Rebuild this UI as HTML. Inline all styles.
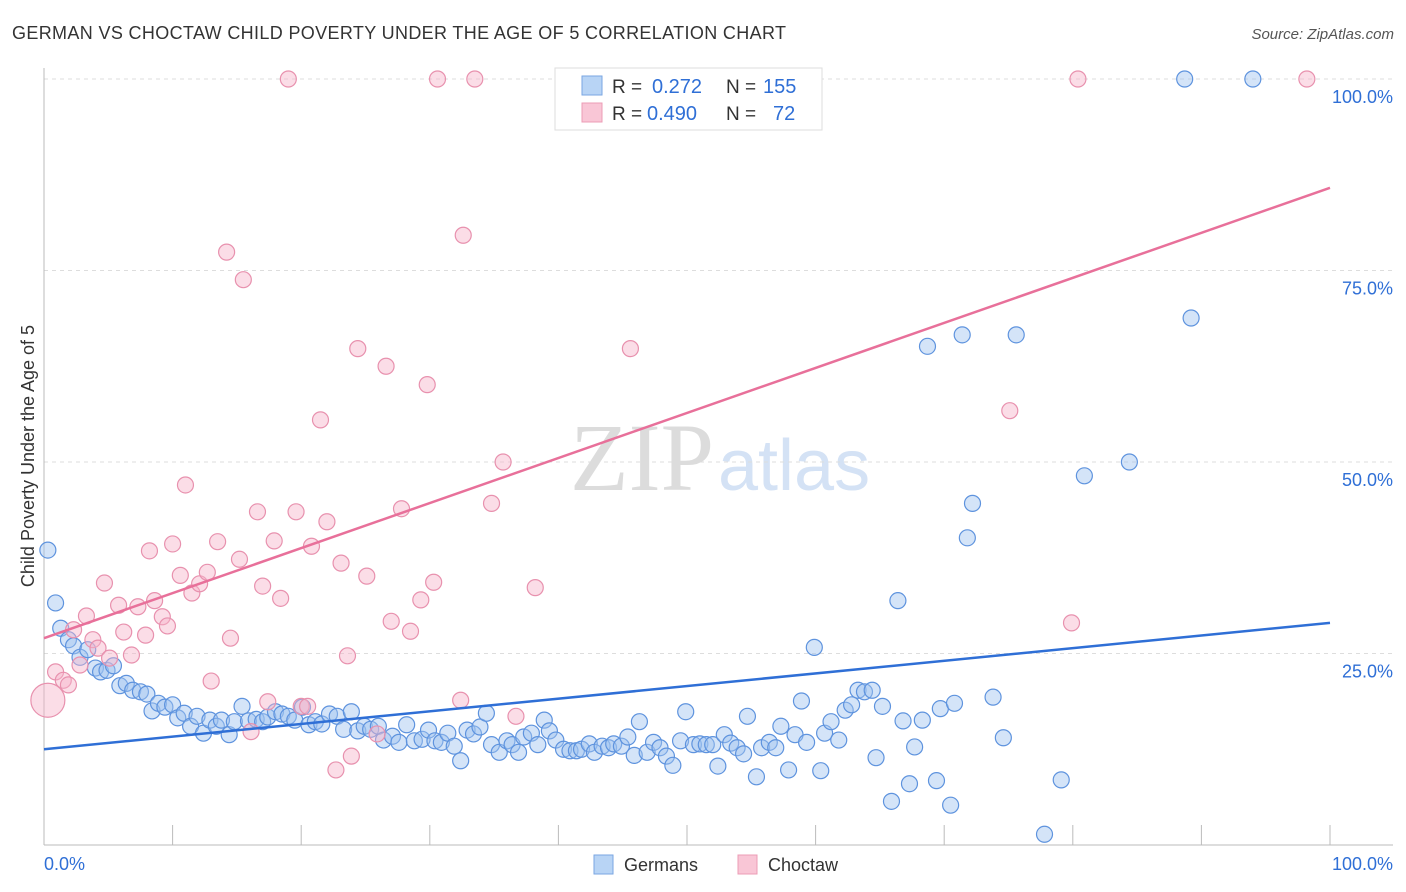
<!DOCTYPE html>
<html><head><meta charset="utf-8">
<style>
body{margin:0;background:#fff;font-family:"Liberation Sans",sans-serif;}
#wrap{position:relative;width:1406px;height:892px;overflow:hidden;}
</style></head>
<body>
<div id="wrap">
<svg id="svg" width="1406" height="892" xmlns="http://www.w3.org/2000/svg">
<text x="12" y="39" font-size="18" fill="#333" textLength="774">GERMAN VS CHOCTAW CHILD POVERTY UNDER THE AGE OF 5 CORRELATION CHART</text>
<text x="1394" y="39" font-size="15" fill="#555" font-style="italic" text-anchor="end">Source: ZipAtlas.com</text>
<text x="714" y="490" font-size="96" fill="#dcdcdc" text-anchor="end" font-family="Liberation Serif">ZIP</text>
<text x="718" y="490" font-size="72" fill="#d4e2f5">atlas</text>
<text transform="translate(34,456) rotate(-90)" font-size="18" fill="#333" text-anchor="middle">Child Poverty Under the Age of 5</text>
<g id="grid"></g><g id="axes"></g><g id="marks"></g>
<g>
<rect x="555" y="68" width="267" height="62" fill="#fff" stroke="#ddd"/>
<rect x="582" y="76" width="20" height="19" fill="#b8d4f5" stroke="#7aa6e2"/>
<rect x="582" y="103" width="20" height="19" fill="#f9c6d6" stroke="#ec9cb6"/>
<text x="612" y="93" font-size="19" fill="#333">R =</text>
<text x="652" y="93" font-size="20" fill="#2f6fd6">0.272</text>
<text x="726" y="93" font-size="19" fill="#333">N =</text>
<text x="763" y="93" font-size="20" fill="#2f6fd6">155</text>
<text x="612" y="120" font-size="19" fill="#333">R =</text>
<text x="647" y="120" font-size="20" fill="#2f6fd6">0.490</text>
<text x="726" y="120" font-size="19" fill="#333">N =</text>
<text x="773" y="120" font-size="20" fill="#2f6fd6">72</text>
</g>
<g>
<rect x="594" y="855" width="19" height="19" fill="#b8d4f5" stroke="#7aa6e2"/>
<text x="624" y="871" font-size="18" fill="#333">Germans</text>
<rect x="738" y="855" width="19" height="19" fill="#f9c6d6" stroke="#ec9cb6"/>
<text x="768" y="871" font-size="18" fill="#333">Choctaw</text>
</g>
</svg>
</div>
<script>
const yTicks=[25,50,75,100];
const yTickLabels=["25.0%","50.0%","75.0%","100.0%"];
const xTicks=[0,10,20,30,40,50,60,70,80,90,100];
const germanX=[0.3,0.9,1.3,1.9,2.3,2.8,3.4,4.0,4.4,4.9,5.4,5.9,6.4,6.9,7.5,8.0,8.4,8.9,9.4,10.0,10.4,10.9,11.4,11.9,12.4,12.9,13.4,13.8,14.4,14.8,15.4,15.9,16.5,17.0,17.4,18.0,18.5,19.0,19.5,20.1,20.6,21.1,21.6,22.2,22.8,23.3,23.9,24.4,24.9,25.4,26.0,26.4,27.1,27.6,28.2,28.8,29.4,29.9,30.4,30.9,31.4,31.9,32.4,32.9,33.4,33.9,34.4,34.8,35.4,36.0,36.4,36.9,37.3,37.9,38.4,38.9,39.3,39.8,40.4,40.9,41.4,41.8,42.4,42.8,43.4,43.9,44.3,44.9,45.4,45.9,46.3,46.9,47.4,47.9,48.4,48.9,49.5,49.9,50.5,51.0,51.5,52.0,52.4,52.9,53.4,53.9,54.4,54.7,55.4,55.8,56.4,56.9,57.3,57.9,58.4,58.9,59.3,59.9,60.4,60.7,61.2,61.8,62.3,62.8,63.3,63.8,64.4,64.7,65.2,65.9,66.4,66.8,67.3,67.7,68.3,68.7,69.4,69.7,70.5,70.8,71.4,71.8,72.2,73.8,74.6,75.6,77.8,79.1,80.9,84.4,88.7,89.2,94.0];
const germanY=[38.5,31.6,28.3,26.8,26.0,24.5,25.5,23.1,22.6,22.8,23.4,20.8,21.1,20.2,20.0,19.7,17.5,18.5,18.0,18.3,16.6,17.2,15.5,16.8,14.6,16.3,15.5,16.3,14.4,16.1,18.1,16.2,16.4,16.1,16.7,17.4,17.1,16.8,16.3,18.0,15.7,16.1,15.8,17.1,16.8,15.1,17.4,14.9,15.5,15.1,15.5,13.7,14.2,13.4,15.7,13.6,13.8,15.0,13.6,13.4,14.6,12.9,11.0,15.0,14.5,15.4,17.2,13.1,12.1,13.6,13.1,12.1,14.1,14.6,13.1,16.3,14.9,13.7,12.5,12.3,12.3,12.5,13.2,12.1,12.9,12.7,13.2,12.9,14.1,11.7,16.1,12.1,13.4,12.7,11.6,10.4,13.6,17.4,13.1,13.2,13.1,13.1,10.3,14.4,13.3,12.7,11.9,16.8,8.9,12.7,13.4,12.7,15.5,9.8,14.4,18.8,13.4,25.8,9.7,14.6,16.1,13.7,17.6,18.3,20.2,20.0,20.2,11.4,18.1,5.7,31.9,16.2,8.0,12.8,16.3,65.1,8.4,17.8,5.2,18.5,66.6,40.1,44.6,19.3,14.0,66.6,1.4,8.5,48.2,50.0,100,68.8,100];
const choctawX=[0.3,0.9,1.5,1.9,2.3,2.8,3.3,3.8,4.2,4.7,5.1,5.8,6.2,6.8,7.3,7.9,8.2,8.6,9.2,9.6,10.0,10.6,11.0,11.5,12.1,12.7,13.0,13.5,14.2,14.5,15.2,15.5,16.1,16.6,17.0,17.4,17.9,18.4,19.0,19.6,20.0,20.5,20.8,21.5,22.0,22.7,23.1,23.6,23.9,24.4,25.1,25.9,26.6,27.0,27.8,28.5,29.3,29.8,30.3,30.6,32.4,32.6,33.5,34.8,35.7,36.7,38.2,45.6,75.1,79.9,80.4,98.2];
const choctawY=[18.9,22.6,21.5,20.9,28.1,23.5,29.9,26.8,25.7,34.2,24.4,31.3,27.8,24.8,31.1,27.4,38.4,31.9,29.8,28.6,39.3,35.2,47.0,32.9,34.1,35.6,21.4,39.6,77.4,27.0,37.3,73.8,14.8,43.5,33.8,18.7,39.7,32.2,100,43.5,18.1,18.1,39.0,55.5,42.2,9.8,36.8,24.7,11.6,64.8,35.1,14.5,62.5,29.2,43.9,27.9,32.0,60.1,34.3,100,18.9,79.6,100,44.6,50.0,16.8,33.6,64.8,56.7,29.0,100,100];
const germanTrend=[12.5,29.0];
const choctawTrend=[27.0,85.8];
const NS="http://www.w3.org/2000/svg";
const X=v=>44+v*12.86, Y=v=>845-v*7.66;
function mk(tag,attrs,parent){const e=document.createElementNS(NS,tag);for(const k in attrs)e.setAttribute(k,attrs[k]);parent.appendChild(e);return e;}
const grid=document.getElementById('grid'),axes=document.getElementById('axes'),marks=document.getElementById('marks');
yTicks.forEach((t,i)=>{
 const l=mk('line',{x1:44,x2:1393,y1:Y(t),y2:Y(t),stroke:'#ddd','stroke-dasharray':'4,4'},grid);
 
 
 const tx=mk('text',{x:1393,y:Y(t)+24,'font-size':18,fill:'#2f6fd6','text-anchor':'end'},axes);
 tx.textContent=yTickLabels[i];
 
 
});
const ax=mk('line',{x1:44,x2:1393,y1:845,y2:845,stroke:'#bbb'},axes);


const ay=mk('line',{x1:44,x2:44,y1:68,y2:845,stroke:'#bbb'},axes);


xTicks.forEach(t=>{
 const l=mk('line',{x1:X(t),x2:X(t),y1:825,y2:845,stroke:'#bbb'},axes);
 
 
});
const xl0=mk('text',{x:44,y:870,'font-size':18,fill:'#2f6fd6'},axes);xl0.textContent='0.0%';


const xl1=mk('text',{x:1393,y:870,'font-size':18,fill:'#2f6fd6','text-anchor':'end'},axes);xl1.textContent='100.0%';


germanX.forEach((x,i)=>{
 const c=mk('circle',{cx:X(x),cy:Y(germanY[i]),r:8,fill:'rgba(160,196,240,0.45)',stroke:'#5e93de','stroke-width':1.2},marks);
 
 
});
choctawX.forEach((x,i)=>{
 const c=mk('circle',{cx:X(x),cy:Y(choctawY[i]),r:i===0?17:8,fill:'rgba(246,180,202,0.45)',stroke:'#e891ae','stroke-width':1.2},marks);
 
 
});
const tb=mk('line',{x1:X(0),y1:Y(germanTrend[0]),x2:X(100),y2:Y(germanTrend[1]),stroke:'#2f6fd6','stroke-width':2.5},marks);


const tp=mk('line',{x1:X(0),y1:Y(choctawTrend[0]),x2:X(100),y2:Y(choctawTrend[1]),stroke:'#e8709a','stroke-width':2.5},marks);


</script>
</body></html>
